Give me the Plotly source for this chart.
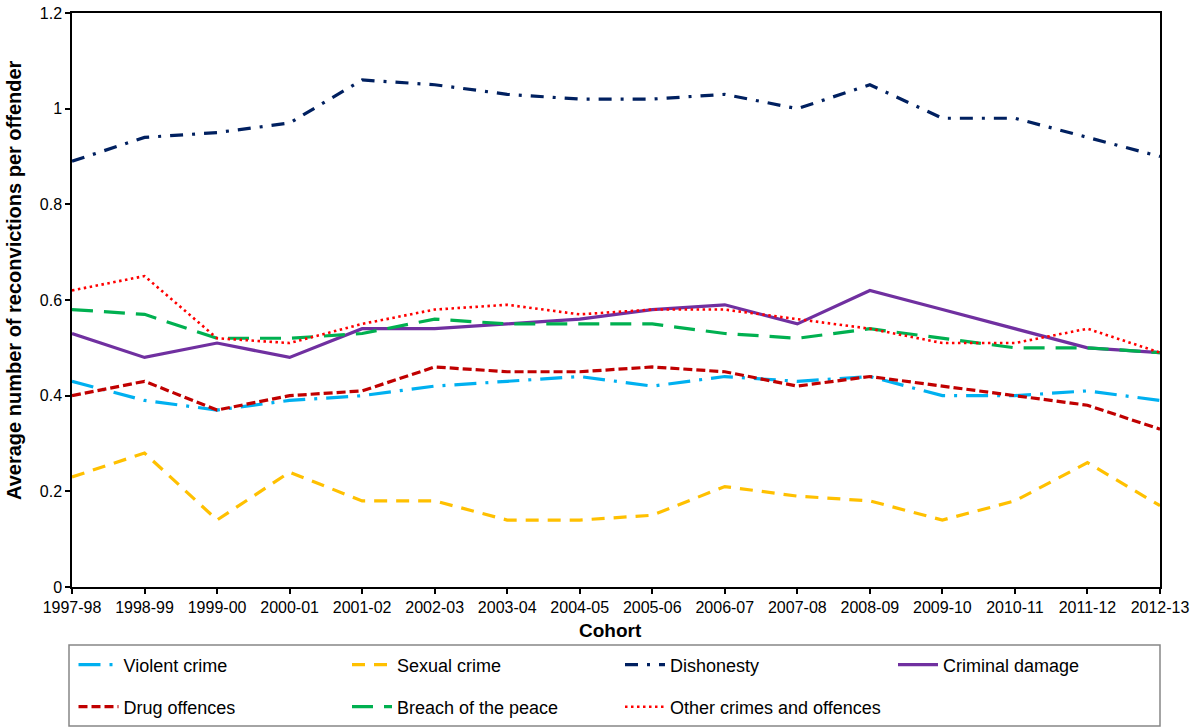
import plotly.graph_objects as go

cohorts = ["1997-98", "1998-99", "1999-00", "2000-01", "2001-02", "2002-03", "2003-04", "2004-05",
           "2005-06", "2006-07", "2007-08", "2008-09", "2009-10", "2010-11", "2011-12", "2012-13"]

violent = [0.43, 0.39, 0.37, 0.39, 0.40, 0.42, 0.43, 0.44, 0.42, 0.44, 0.43, 0.44, 0.40, 0.40, 0.41, 0.39]
sexual = [0.23, 0.28, 0.14, 0.24, 0.18, 0.18, 0.14, 0.14, 0.15, 0.21, 0.19, 0.18, 0.14, 0.18, 0.26, 0.17]
dishonesty = [0.89, 0.94, 0.95, 0.97, 1.06, 1.05, 1.03, 1.02, 1.02, 1.03, 1.00, 1.05, 0.98, 0.98, 0.94, 0.90]
criminal_damage = [0.53, 0.48, 0.51, 0.48, 0.54, 0.54, 0.55, 0.56, 0.58, 0.59, 0.55, 0.62, 0.58, 0.54, 0.50, 0.49]
drug = [0.40, 0.43, 0.37, 0.40, 0.41, 0.46, 0.45, 0.45, 0.46, 0.45, 0.42, 0.44, 0.42, 0.40, 0.38, 0.33]
breach = [0.58, 0.57, 0.52, 0.52, 0.53, 0.56, 0.55, 0.55, 0.55, 0.53, 0.52, 0.54, 0.52, 0.50, 0.50, 0.49]
other = [0.62, 0.65, 0.52, 0.51, 0.55, 0.58, 0.59, 0.57, 0.58, 0.58, 0.56, 0.54, 0.51, 0.51, 0.54, 0.49]

FONT = "Arial, 'Liberation Sans', sans-serif"

W, H = 1192, 727
# plot-area edges in page pixels
L, R, T, B = 72, 1160, 13, 587
pw, ph = R - L, B - T


def px_x(x):
    return (x - L) / pw


def px_y(y):
    return (B - y) / ph


# name, values, colour, dash, width, legend pixel position (x, y)
series = [
    ("Violent crime", violent, "#00B0F0", "22px,9px,3px,9px", 3.2, (73.5, 665)),
    ("Sexual crime", sexual, "#FFC000", "13px,9px", 3.2, (347, 665)),
    ("Dishonesty", dishonesty, "#002060", "13px,9px,3px,9px", 3.2, (620, 665)),
    ("Criminal damage", criminal_damage, "#7030A0", "solid", 3.2, (893, 665)),
    ("Drug offences", drug, "#C00000", "9px,4px", 3.2, (73.5, 707)),
    ("Breach of the peace", breach, "#00B050", "21px,11px", 3.2, (347, 707)),
    ("Other crimes and offences", other, "#FF0000", "2.5px,3.5px", 2.6, (620, 707)),
]

fig = go.Figure()
legends = {}
for i, (name, vals, color, dash, width, pos) in enumerate(series):
    key = "legend" if i == 0 else f"legend{i + 1}"
    fig.add_trace(go.Scatter(
        x=cohorts, y=vals, mode="lines", name=name,
        line=dict(color=color, dash=dash, width=width),
        legend=key,
    ))
    legends[key] = dict(
        orientation="h", xanchor="left", yanchor="middle",
        x=px_x(pos[0]), y=px_y(pos[1]),
        font=dict(family=FONT, size=18, color="#000000"),
        bgcolor="rgba(0,0,0,0)", borderwidth=0, itemwidth=40,
    )

fig.update_layout(
    width=W, height=H,
    margin=dict(l=L, r=W - R, t=T, b=H - B, autoexpand=False),
    paper_bgcolor="white", plot_bgcolor="white",
    font=dict(family=FONT, size=16, color="#000000"),
    showlegend=True,
    xaxis=dict(
        type="category", range=[0, len(cohorts) - 1],
        showline=True, linecolor="#000000", linewidth=1.5, mirror=True,
        ticks="outside", ticklen=5, tickwidth=1.5, tickcolor="#000000",
        showgrid=False, zeroline=False, ticklabeloverflow="allow",
        tickfont=dict(family=FONT, size=16, color="#000000"),
    ),
    yaxis=dict(
        range=[0, 1.2], dtick=0.2, tick0=0,
        showline=True, linecolor="#000000", linewidth=1.5, mirror=True,
        ticks="outside", ticklen=5, tickwidth=1.5, tickcolor="#000000",
        showgrid=False, zeroline=False, ticklabeloverflow="allow",
        tickfont=dict(family=FONT, size=16, color="#000000"),
    ),
    shapes=[dict(
        type="rect", xref="paper", yref="paper",
        x0=px_x(69), x1=px_x(1160), y0=px_y(645), y1=px_y(726),
        line=dict(color="#868686", width=1.5), fillcolor="rgba(0,0,0,0)",
    )],
    annotations=[
        dict(text="<b>Average number of reconvictions per offender</b>", textangle=-90,
             xref="paper", yref="paper", x=px_x(14), y=px_y(280),
             xanchor="center", yanchor="middle", showarrow=False,
             font=dict(family=FONT, size=20, color="#000000")),
        dict(text="<b>Cohort</b>",
             xref="paper", yref="paper", x=px_x(610), y=px_y(630),
             xanchor="center", yanchor="middle", showarrow=False,
             font=dict(family=FONT, size=19, color="#000000")),
    ],
)
fig.update_layout(**legends)

fig.write_html("out.html", config={"displayModeBar": False},
               post_script="document.body.style.margin='0px';")
